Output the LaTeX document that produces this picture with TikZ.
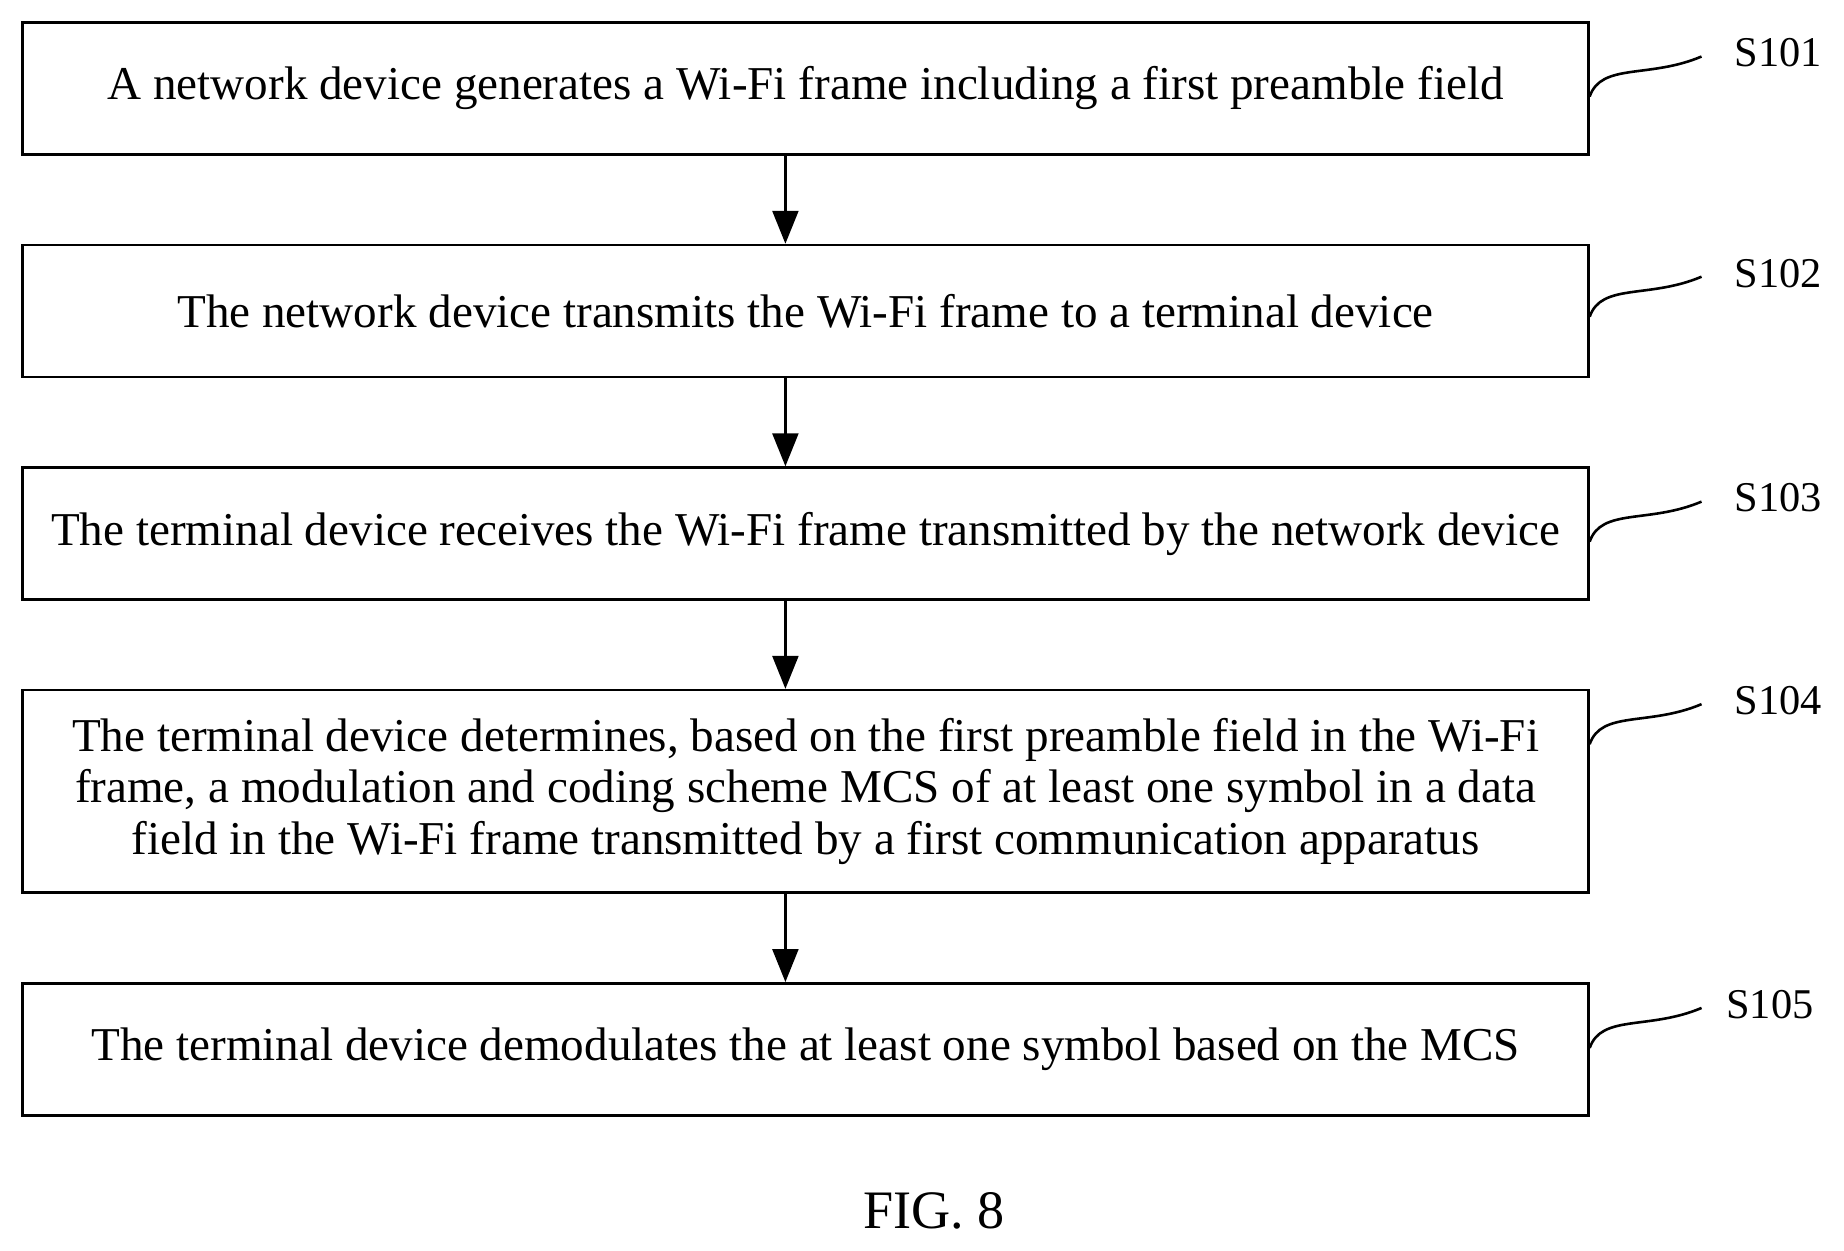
\documentclass[tikz,border=0pt]{standalone}
\usepackage{fontspec}
\setmainfont{Liberation Serif}
\usetikzlibrary{arrows.meta}
\begin{document}
\begin{tikzpicture}[x=1pt,y=-1pt,
  box/.style={draw,line width=2.2pt,minimum width=1330pt,anchor=north west,inner sep=0pt,align=center,font=\fontsize{40}{44}\selectfont},
  arr/.style={line width=2.2pt,-{Triangle[width=22pt,length=28pt]}},
  sq/.style={line width=2.2pt},
  lab/.style={font=\fontsize{36}{40}\selectfont}]
\useasboundingbox (0,0) rectangle (1566,1062);
\node[box,minimum height=112pt] (b1) at (18,18) {A network device generates a Wi-Fi frame including a first preamble field};
\node[box,minimum height=112pt] (b2) at (18,207) {The network device transmits the Wi-Fi frame to a terminal device};
\node[box,minimum height=112pt] (b3) at (18,396) {The terminal device receives the Wi-Fi frame transmitted by the network device};
\node[box,minimum height=172pt] (b4) at (18,585) {The terminal device determines, based on the first preamble field in the Wi-Fi\\frame, a modulation and coding scheme MCS of at least one symbol in a data\\field in the Wi-Fi frame transmitted by a first communication apparatus};
\node[box,minimum height=112pt] (b5) at (18,834) {The terminal device demodulates the at least one symbol based on the MCS};
\draw[arr] (b1.south -| 667,0) -- (b2.north -| 667,0);
\draw[arr] (b2.south -| 667,0) -- (b3.north -| 667,0);
\draw[arr] (b3.south -| 667,0) -- (b4.north -| 667,0);
\draw[arr] (b4.south -| 667,0) -- (b5.north -| 667,0);
\foreach \b/\y/\t/\lx in {b1/45/S101/1510,b2/232/S102/1510,b3/423/S103/1510,b4/595/S104/1510,b5/853/S105/1503}{
  \node[lab] (l\b) at (\lx,\y) {\t};
  \coordinate (s\b) at (1350,\y+37);
  \coordinate (e\b) at (1445,\y+3);
  \draw[sq] (s\b) .. controls (1360,\y+8) and (1400,\y+22) .. (e\b);
}
\node[font=\fontsize{46}{50}\selectfont] (fig) at (793,1028) {FIG. 8};
\end{tikzpicture}
\end{document}
